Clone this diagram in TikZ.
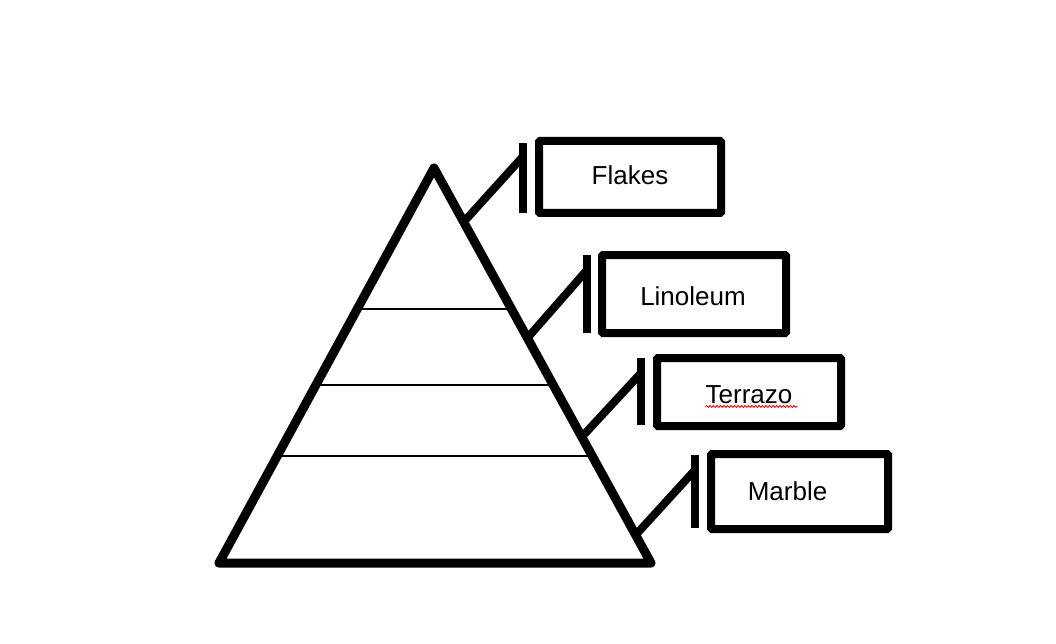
\documentclass[tikz,border=0pt]{standalone}
\usepackage{fontspec}
\setmainfont{Liberation Sans}
\usetikzlibrary{decorations.pathmorphing}
\begin{document}
\begin{tikzpicture}[x=1pt,y=-1pt,
  tri/.style={line width=9pt,line join=round},
  layer/.style={line width=2.8pt},
  box/.style={draw,line width=8pt,inner sep=0pt,rounded corners=1pt},
  bar/.style={line width=8pt},
  conn/.style={line width=8pt},
  lbl/.style={anchor=base,inner sep=0pt,font=\fontsize{26}{30}\selectfont}]
\useasboundingbox (0,0) rectangle (1056,644);
% pyramid
\coordinate (apex) at (434,168);
\coordinate (bl) at (219,563);
\coordinate (br) at (651,563);
\draw[tri] (apex) -- (bl) -- (br) -- cycle;
\foreach \yy/\nm in {309/a,385/b,456/c}{
  \path (apex) -- (bl) coordinate[pos={(\yy-168)/395}] (l\nm);
  \path (apex) -- (br) coordinate[pos={(\yy-168)/395}] (r\nm);
  \draw[layer] (l\nm) -- (r\nm);
}
% boxes
\node[box,minimum width=182pt,minimum height=72pt] (flakes) at (630,177) {};
\node[box,minimum width=184pt,minimum height=78pt] (linoleum) at (694,294) {};
\node[box,minimum width=184pt,minimum height=68pt] (terrazo) at (749,392) {};
\node[box,minimum width=177pt,minimum height=75pt] (marble) at (799.5,491.5) {};
% labels
\node[lbl] (tflakes) at (630,185) {Flakes};
\node[lbl] (tlinoleum) at (693,305) {Linoleum};
\node[lbl] (tterrazo) at (749,403) {Terrazo};
\node[lbl] (tmarble) at (787.5,500) {Marble};
\draw[red,line width=0.9pt,decorate,decoration={snake,segment length=3.5pt,amplitude=0.9pt}]
  (tterrazo.south west) ++(0,3) -- ++(92,0);
% bars
\coordinate (f1) at (522.5,143); \coordinate (f2) at (522.5,213);
\coordinate (n1) at (587,255); \coordinate (n2) at (587,333);
\coordinate (t1) at (641,358); \coordinate (t2) at (641,425);
\coordinate (m1) at (695,455); \coordinate (m2) at (695,528);
\draw[bar] (f1) -- (f2);
\draw[bar] (n1) -- (n2);
\draw[bar] (t1) -- (t2);
\draw[bar] (m1) -- (m2);
% connectors
\path (apex) -- (br) coordinate[pos={(222-168)/395}] (cf);
\path (apex) -- (br) coordinate[pos={(338-168)/395}] (cn);
\path (apex) -- (br) coordinate[pos={(437-168)/395}] (ct);
\path (apex) -- (br) coordinate[pos={(535-168)/395}] (cm);
\coordinate (ef) at (522.5,157);
\coordinate (en) at (587,270);
\coordinate (et) at (641,373);
\coordinate (em) at (695,470);
\draw[conn] (cf) -- (ef);
\draw[conn] (cn) -- (en);
\draw[conn] (ct) -- (et);
\draw[conn] (cm) -- (em);
\end{tikzpicture}
\end{document}
